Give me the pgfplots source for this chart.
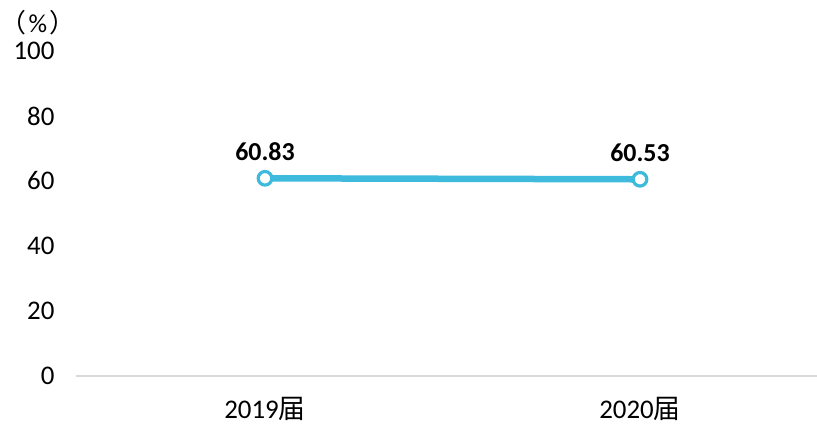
\documentclass[border=0pt]{standalone}
\usepackage{pgfplots}
\pgfplotsset{compat=1.18}
\usetikzlibrary{calc}
\usepackage{fontspec}
\setmainfont{Carlito}
\newfontfamily\cjk{Noto Sans CJK SC}
\definecolor{linec}{HTML}{3DBADC}
\definecolor{axc}{HTML}{D9D9D9}
\begin{document}
\begin{tikzpicture}[x=1bp,y=1bp]
\begin{axis}[
  scale only axis,
  width=741bp, height=325bp,
  xmin=-0.504, xmax=1.472,
  ymin=0, ymax=100,
  xtick={0,1},
  xticklabels={2019{\cjk 届},2020{\cjk 届}},
  ytick={0,20,40,60,80,100},
  axis x line*=bottom,
  axis y line*=left,
  x axis line style={draw=axc, line width=1.5bp},
  y axis line style={draw=none},
  major tick length=0pt,
  tick style={draw=none},
  font=\fontsize{27}{32}\selectfont,
  /pgf/number format/assume math mode=true,
  yticklabel style={anchor=east, xshift=-18bp},
  xticklabel style={anchor=north, yshift=-18bp},
  clip=false,
  nodes near coords,
  nodes near coords style={text=black, font=\fontsize{26}{30}\selectfont\bfseries, anchor=south, yshift=13bp, /pgf/number format/.cd, fixed, fixed zerofill, precision=2},
]
\addplot[color=linec, line width=6.5bp, mark=*, mark size=6.8bp,
  mark options={fill=white, draw=linec, line width=3.2bp}]
  coordinates {(0,60.83) (1,60.53)};
\end{axis}
\pgfresetboundingbox
\path (current axis.south west) ++(-76bp,-49bp) coordinate (BL);
\path (current axis.south west) ++(741bp,376bp) coordinate (TR);
\path (BL) rectangle (TR);
\node[font=\fontsize{26}{30}\selectfont, inner sep=0pt] at ($(current axis.south west)+(-38bp,353bp)$) {{\cjk （}\kern2bp\%\kern2bp{\cjk ）}};
\end{tikzpicture}
\end{document}
